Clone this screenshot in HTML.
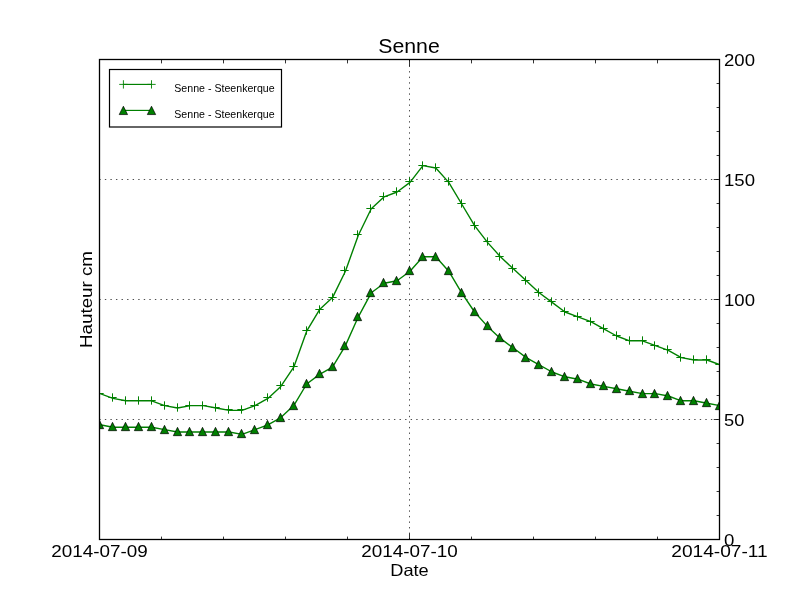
<!DOCTYPE html><html><head><meta charset="utf-8"><style>html,body{margin:0;padding:0;background:#fff;overflow:hidden}svg{display:block}text{font-family:"Liberation Sans",sans-serif;fill:#000}</style></head><body>
<svg width="800" height="600" viewBox="0 0 800 600">
<rect x="0" y="0" width="800" height="600" fill="#fff"/>
<g stroke="#000" stroke-width="0.7" stroke-dasharray="1.39 4.17" fill="none">
<line x1="99.3" y1="419.5" x2="720" y2="419.5"/>
<line x1="99.3" y1="299.5" x2="720" y2="299.5"/>
<line x1="99.3" y1="179.5" x2="720" y2="179.5"/>
<line x1="409.5" y1="60" x2="409.5" y2="540"/>
</g>
<defs><clipPath id="ax"><rect x="100" y="60" width="620" height="480"/></clipPath></defs>
<g clip-path="url(#ax)">
<polyline points="100.00,393.60 112.92,398.40 125.83,400.80 138.75,400.80 151.67,400.80 164.58,405.60 177.50,408.00 190.42,405.60 203.33,405.60 216.25,408.00 229.17,410.40 242.08,410.40 255.00,405.60 267.92,398.40 280.83,386.40 293.75,367.20 306.67,331.20 319.58,309.60 332.50,297.60 345.42,271.20 358.33,235.20 371.25,208.80 384.17,196.80 397.08,192.00 410.00,182.40 422.92,165.60 435.83,168.00 448.75,182.40 461.67,204.00 474.58,225.60 487.50,242.40 500.42,256.80 513.33,268.80 526.25,280.80 539.17,292.80 552.08,302.40 565.00,312.00 577.92,316.80 590.83,321.60 603.75,328.80 616.67,336.00 629.58,340.80 642.50,340.80 655.42,345.60 668.33,350.40 681.25,357.60 694.17,360.00 707.08,360.00 720.00,364.80" fill="none" stroke="#008000" stroke-width="1.39" stroke-linejoin="round" stroke-linecap="butt"/>
<polyline points="100.00,424.80 112.92,427.20 125.83,427.20 138.75,427.20 151.67,427.20 164.58,429.60 177.50,432.00 190.42,432.00 203.33,432.00 216.25,432.00 229.17,432.00 242.08,434.40 255.00,429.60 267.92,424.80 280.83,417.60 293.75,405.60 306.67,384.00 319.58,374.40 332.50,367.20 345.42,345.60 358.33,316.80 371.25,292.80 384.17,283.20 397.08,280.80 410.00,271.20 422.92,256.80 435.83,256.80 448.75,271.20 461.67,292.80 474.58,312.00 487.50,326.40 500.42,338.40 513.33,348.00 526.25,357.60 539.17,364.80 552.08,372.00 565.00,376.80 577.92,379.20 590.83,384.00 603.75,386.40 616.67,388.80 629.58,391.20 642.50,393.60 655.42,393.60 668.33,396.00 681.25,400.80 694.17,400.80 707.08,403.20 720.00,405.60" fill="none" stroke="#008000" stroke-width="1.39" stroke-linejoin="round" stroke-linecap="butt"/>
<path d="M95.33 393.50H103.67M99.50 389.33V397.67M108.33 397.50H116.67M112.50 393.33V401.67M121.33 400.50H129.67M125.50 396.33V404.67M134.33 400.50H142.67M138.50 396.33V404.67M147.33 400.50H155.67M151.50 396.33V404.67M160.33 405.50H168.67M164.50 401.33V409.67M173.33 407.50H181.67M177.50 403.33V411.67M185.33 405.50H193.67M189.50 401.33V409.67M198.33 405.50H206.67M202.50 401.33V409.67M211.33 407.50H219.67M215.50 403.33V411.67M224.33 409.50H232.67M228.50 405.33V413.67M237.33 409.50H245.67M241.50 405.33V413.67M250.33 405.50H258.67M254.50 401.33V409.67M263.33 397.50H271.67M267.50 393.33V401.67M276.33 385.50H284.67M280.50 381.33V389.67M289.33 366.50H297.67M293.50 362.33V370.67M302.33 330.50H310.67M306.50 326.33V334.67M315.33 309.50H323.67M319.50 305.33V313.67M328.33 297.50H336.67M332.50 293.33V301.67M340.33 270.50H348.67M344.50 266.33V274.67M353.33 234.50H361.67M357.50 230.33V238.67M366.33 208.50H374.67M370.50 204.33V212.67M379.33 196.50H387.67M383.50 192.33V200.67M392.33 191.50H400.67M396.50 187.33V195.67M405.33 181.50H413.67M409.50 177.33V185.67M418.33 165.50H426.67M422.50 161.33V169.67M431.33 167.50H439.67M435.50 163.33V171.67M444.33 181.50H452.67M448.50 177.33V185.67M457.33 203.50H465.67M461.50 199.33V207.67M470.33 225.50H478.67M474.50 221.33V229.67M483.33 241.50H491.67M487.50 237.33V245.67M495.33 256.50H503.67M499.50 252.33V260.67M508.33 268.50H516.67M512.50 264.33V272.67M521.33 280.50H529.67M525.50 276.33V284.67M534.33 292.50H542.67M538.50 288.33V296.67M547.33 301.50H555.67M551.50 297.33V305.67M560.33 311.50H568.67M564.50 307.33V315.67M573.33 316.50H581.67M577.50 312.33V320.67M586.33 321.50H594.67M590.50 317.33V325.67M599.33 328.50H607.67M603.50 324.33V332.67M612.33 335.50H620.67M616.50 331.33V339.67M625.33 340.50H633.67M629.50 336.33V344.67M638.33 340.50H646.67M642.50 336.33V344.67M650.33 345.50H658.67M654.50 341.33V349.67M663.33 349.50H671.67M667.50 345.33V353.67M676.33 357.50H684.67M680.50 353.33V361.67M689.33 359.50H697.67M693.50 355.33V363.67M702.33 359.50H710.67M706.50 355.33V363.67M715.33 364.50H723.67M719.50 360.33V368.67" stroke="#008000" stroke-width="1.0" fill="none"/>
<path d="M99.50 420.33L95.33 428.67H103.67ZM112.50 422.33L108.33 430.67H116.67ZM125.50 422.33L121.33 430.67H129.67ZM138.50 422.33L134.33 430.67H142.67ZM151.50 422.33L147.33 430.67H155.67ZM164.50 425.33L160.33 433.67H168.67ZM177.50 427.33L173.33 435.67H181.67ZM189.50 427.33L185.33 435.67H193.67ZM202.50 427.33L198.33 435.67H206.67ZM215.50 427.33L211.33 435.67H219.67ZM228.50 427.33L224.33 435.67H232.67ZM241.50 429.33L237.33 437.67H245.67ZM254.50 425.33L250.33 433.67H258.67ZM267.50 420.33L263.33 428.67H271.67ZM280.50 413.33L276.33 421.67H284.67ZM293.50 401.33L289.33 409.67H297.67ZM306.50 379.33L302.33 387.67H310.67ZM319.50 369.33L315.33 377.67H323.67ZM332.50 362.33L328.33 370.67H336.67ZM344.50 341.33L340.33 349.67H348.67ZM357.50 312.33L353.33 320.67H361.67ZM370.50 288.33L366.33 296.67H374.67ZM383.50 278.33L379.33 286.67H387.67ZM396.50 276.33L392.33 284.67H400.67ZM409.50 266.33L405.33 274.67H413.67ZM422.50 252.33L418.33 260.67H426.67ZM435.50 252.33L431.33 260.67H439.67ZM448.50 266.33L444.33 274.67H452.67ZM461.50 288.33L457.33 296.67H465.67ZM474.50 307.33L470.33 315.67H478.67ZM487.50 321.33L483.33 329.67H491.67ZM499.50 333.33L495.33 341.67H503.67ZM512.50 343.33L508.33 351.67H516.67ZM525.50 353.33L521.33 361.67H529.67ZM538.50 360.33L534.33 368.67H542.67ZM551.50 367.33L547.33 375.67H555.67ZM564.50 372.33L560.33 380.67H568.67ZM577.50 374.33L573.33 382.67H581.67ZM590.50 379.33L586.33 387.67H594.67ZM603.50 381.33L599.33 389.67H607.67ZM616.50 384.33L612.33 392.67H620.67ZM629.50 386.33L625.33 394.67H633.67ZM642.50 389.33L638.33 397.67H646.67ZM654.50 389.33L650.33 397.67H658.67ZM667.50 391.33L663.33 399.67H671.67ZM680.50 396.33L676.33 404.67H684.67ZM693.50 396.33L689.33 404.67H697.67ZM706.50 398.33L702.33 406.67H710.67ZM719.50 401.33L715.33 409.67H723.67Z" stroke="#000" stroke-width="0.7" fill="#008000" stroke-linejoin="miter"/>
</g>
<rect x="99.5" y="59.5" width="620" height="480" fill="none" stroke="#000" stroke-width="1.3"/>
<path d="M99.5 540V533.70M99.5 60V66.30M161.5 540V536.60M161.5 60V63.40M223.5 540V536.60M223.5 60V63.40M285.5 540V536.60M285.5 60V63.40M347.5 540V536.60M347.5 60V63.40M409.5 540V533.70M409.5 60V66.30M471.5 540V536.60M471.5 60V63.40M533.5 540V536.60M533.5 60V63.40M595.5 540V536.60M595.5 60V63.40M657.5 540V536.60M657.5 60V63.40M719.5 540V533.70M719.5 60V66.30M720 539.5H713.70M720 515.5H716.60M720 491.5H716.60M720 467.5H716.60M720 443.5H716.60M720 419.5H713.70M720 395.5H716.60M720 371.5H716.60M720 347.5H716.60M720 323.5H716.60M720 299.5H713.70M720 275.5H716.60M720 251.5H716.60M720 227.5H716.60M720 203.5H716.60M720 179.5H713.70M720 155.5H716.60M720 131.5H716.60M720 107.5H716.60M720 83.5H716.60M720 59.5H713.70" stroke="#000" stroke-width="0.8" fill="none"/>
<g style="filter:grayscale(1)">
<text x="409" y="52.5" font-size="20" text-anchor="middle" textLength="61.5" lengthAdjust="spacingAndGlyphs">Senne</text>
<text x="99.5" y="557" font-size="16.5" text-anchor="middle" textLength="96.5" lengthAdjust="spacingAndGlyphs">2014-07-09</text>
<text x="409.5" y="557" font-size="16.5" text-anchor="middle" textLength="96.5" lengthAdjust="spacingAndGlyphs">2014-07-10</text>
<text x="719.5" y="557" font-size="16.5" text-anchor="middle" textLength="96.5" lengthAdjust="spacingAndGlyphs">2014-07-11</text>
<text x="724.0" y="545.90" font-size="16.5" textLength="10.4" lengthAdjust="spacingAndGlyphs">0</text>
<text x="724.0" y="425.90" font-size="16.5" textLength="20.3" lengthAdjust="spacingAndGlyphs">50</text>
<text x="724.0" y="305.90" font-size="16.5" textLength="31.0" lengthAdjust="spacingAndGlyphs">100</text>
<text x="724.0" y="185.90" font-size="16.5" textLength="31.0" lengthAdjust="spacingAndGlyphs">150</text>
<text x="724.0" y="65.90" font-size="16.5" textLength="31.0" lengthAdjust="spacingAndGlyphs">200</text>
<text x="409.5" y="575.6" font-size="16.5" text-anchor="middle" textLength="38.5" lengthAdjust="spacingAndGlyphs">Date</text>
<text transform="translate(91.8 299.5) rotate(-90)" x="0" y="0" font-size="16" text-anchor="middle" textLength="97" lengthAdjust="spacingAndGlyphs">Hauteur cm</text>
</g>
<rect x="109.5" y="69.5" width="172" height="57.5" fill="#fff" stroke="#000" stroke-width="1.2"/>
<line x1="123.4" y1="84.4" x2="151.5" y2="84.4" stroke="#008000" stroke-width="1.15"/>
<path d="M119.2333 84.4H127.56670000000001M123.4 80.2333V88.56670000000001M147.3333 84.4H155.6667M151.5 80.2333V88.56670000000001" stroke="#008000" stroke-width="0.9"/>
<line x1="123.4" y1="110.4" x2="151.5" y2="110.4" stroke="#008000" stroke-width="1.15"/>
<path d="M123.40 106.23L119.23 114.57H127.57ZM151.50 106.23L147.33 114.57H155.67Z" stroke="#000" stroke-width="0.7" fill="#008000"/>
<g style="filter:grayscale(1)">
<text x="174.3" y="91.8" font-size="10.5" textLength="100.3" lengthAdjust="spacingAndGlyphs">Senne - Steenkerque</text>
<text x="174.3" y="117.8" font-size="10.5" textLength="100.3" lengthAdjust="spacingAndGlyphs">Senne - Steenkerque</text>
</g>
</svg></body></html>
